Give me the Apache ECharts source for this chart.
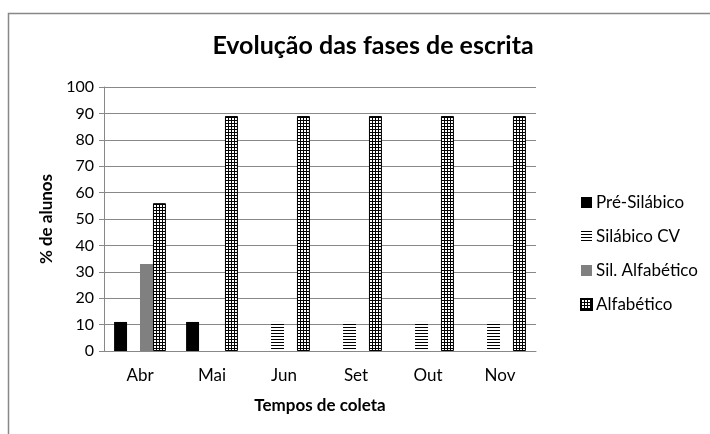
<!DOCTYPE html>
<html lang="pt" style="height: 100%">
<head>
  <meta charset="utf-8">
</head>
<body style="height: 100%; margin: 0">
  <div id="container" style="width: 710px; height: 434px"></div>
  <script type="text/javascript" src="https://fastly.jsdelivr.net/npm/echarts@6.0.0/dist/echarts.min.js"></script>
  <script type="text/javascript">
    // dados
    var meses = ['Abr', 'Mai', 'Jun', 'Set', 'Out', 'Nov'];
    var preSilabico = [11, 11, 0, 0, 0, 0];
    var silabicoCV = [0, 0, 11, 11, 11, 11];
    var silAlfabetico = [33, 0, 0, 0, 0, 0];
    var alfabetico = [56, 89, 89, 89, 89, 89];

    // padroes de preenchimento (estilo excel)
    function hatch(grid) {
      var c = document.createElement('canvas');
      c.width = 3; c.height = 3;
      var ctx = c.getContext('2d');
      ctx.fillStyle = '#fff';
      ctx.fillRect(0, 0, 3, 3);
      ctx.fillStyle = '#000';
      ctx.fillRect(0, 0, 3, 1);
      if (grid) ctx.fillRect(0, 0, 1, 3);
      return { image: c, repeat: 'repeat' };
    }

    var fonte = 'Lato, "Open Sans", sans-serif';
    var dom = document.getElementById('container');
    var myChart = echarts.init(dom, null, { renderer: 'canvas' });

    var option = {
      backgroundColor: '#fff',
      animation: false,
      title: {
        text: 'Evolução das fases de escrita',
        left: 368,
        top: 28,
        textAlign: 'center',
        textStyle: { fontFamily: fonte, fontSize: 25, fontWeight: 'bold', color: '#000' }
      },
      graphic: [{
        type: 'rect',
        shape: { x: 8.5, y: 13.5, width: 720, height: 440 },
        style: { fill: 'none', stroke: '#888', lineWidth: 1.5 },
        silent: true
      }],
      legend: {
        orient: 'vertical',
        left: 575,
        top: 189,
        itemWidth: 11,
        itemHeight: 11,
        itemGap: 17,
        icon: 'rect',
        textStyle: { fontFamily: fonte, fontSize: 17, color: '#000', padding: [0, 0, 0, -1] }
      },
      grid: { left: 104, right: 174, top: 87, bottom: 83 },
      xAxis: {
        type: 'category',
        data: meses,
        name: 'Tempos de coleta',
        nameLocation: 'middle',
        nameGap: 46,
        nameTextStyle: { fontFamily: fonte, fontSize: 17, fontWeight: 'bold', color: '#000' },
        axisLine: { lineStyle: { color: '#888', width: 1 } },
        axisTick: { show: false },
        axisLabel: { fontFamily: fonte, fontSize: 17, color: '#000', margin: 16 }
      },
      yAxis: {
        type: 'value',
        min: 0,
        max: 100,
        interval: 10,
        name: '% de alunos',
        nameLocation: 'middle',
        nameGap: 46,
        nameTextStyle: { fontFamily: fonte, fontSize: 17, fontWeight: 'bold', color: '#000' },
        axisLine: { show: true, lineStyle: { color: '#888', width: 1 } },
        axisTick: { show: true, length: 5, lineStyle: { color: '#888' } },
        splitLine: { lineStyle: { color: '#888', width: 1 } },
        axisLabel: { fontFamily: fonte, fontSize: 16, color: '#000', margin: 10 }
      },
      series: [
        {
          name: 'Pré-Silábico',
          type: 'bar',
          data: preSilabico,
          barGap: '0%',
          barCategoryGap: '28%',
          itemStyle: { color: '#000' }
        },
        {
          name: 'Silábico CV',
          type: 'bar',
          data: silabicoCV,
          itemStyle: { color: hatch(false) }
        },
        {
          name: 'Sil. Alfabético',
          type: 'bar',
          data: silAlfabetico,
          itemStyle: { color: '#808080' }
        },
        {
          name: 'Alfabético',
          type: 'bar',
          data: alfabetico,
          itemStyle: { color: hatch(true), borderColor: '#000', borderWidth: 1 }
        }
      ]
    };

    myChart.setOption(option);
    window.addEventListener('resize', myChart.resize);
  </script>
</body>
</html>
